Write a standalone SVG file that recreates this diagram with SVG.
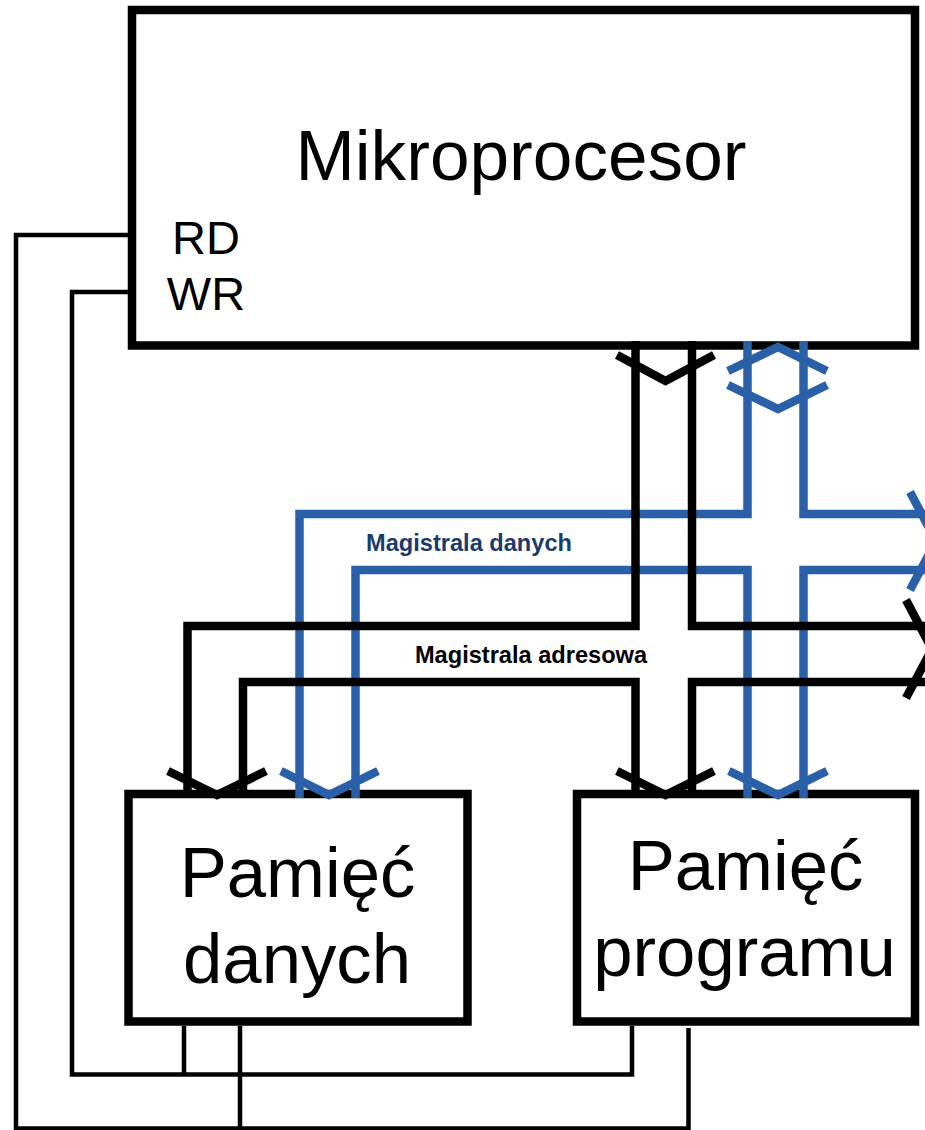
<svg xmlns="http://www.w3.org/2000/svg" width="925" height="1130" viewBox="0 0 925 1130">
<style>
.box{fill:#fff;stroke:#000;stroke-width:8.500}
.k,.b,.t{fill:none;stroke-linejoin:miter;stroke-miterlimit:10}
.k{stroke:#000;stroke-width:8.500}
.b{stroke:#2a60a8;stroke-width:8.500}
.t{stroke:#000;stroke-width:4.500}
text{font-family:"Liberation Sans",Arial,sans-serif;fill:#000;text-anchor:middle}
.big{font-size:70.700px}
.sig{font-size:47px}
.lab{font-size:23.600px;font-weight:bold}
</style>
<rect width="925" height="1130" fill="#fff"/>
<g id="mikroprocesor">
<rect class="box" x="132" y="10" width="783" height="335.500"/>
<text class="big" x="521" y="180" style="font-size:71.200px">Mikroprocesor</text>
<text class="sig" x="206" y="254">RD</text>
<text class="sig" x="206" y="309.500">WR</text>
</g>
<g id="pamiec-danych">
<rect class="box" x="128.500" y="794" width="339" height="227.500"/>
<text class="big" x="297.500" y="897">Pamięć</text>
<text class="big" x="297" y="983">danych</text>
</g>
<g id="pamiec-programu">
<rect class="box" x="577" y="794" width="338" height="227.500"/>
<text class="big" x="745.500" y="890">Pamięć</text>
<text class="big" x="744.500" y="976">programu</text>
</g>
<g id="connectors">
<path class="t" d="M128 235H16V1128.500H688.500V1028"/>
<path class="t" d="M128 292H72V1074.500H632V1026"/>
<path class="t" d="M184 1026V1074.500M240 1026V1128.500"/>
<path class="b" d="M747.500 341V514H299.500V798"/>
<path class="b" d="M355.500 798V570H747.500V798"/>
<path class="b" d="M803.500 341V514H925M925 570H803.500V798"/>
<path class="b" d="M728 371L778 347L827 371M728 385L778 409L827 385"/>
<path class="b" d="M910 492L936 541L910 590"/>
<path class="b" d="M281 771L329 795L378 771M729 771L778 795L827 771"/>
<path class="k" d="M635.500 341V626H187.500V798"/>
<path class="k" d="M692 341V626H925M925 682H692V798"/>
<path class="k" d="M243 798V682H635.500V798"/>
<path class="k" d="M617 355L665.500 381L714 355"/>
<path class="k" d="M906 600L932 649L906 698"/>
<path class="k" d="M168 771L217 795L266 771M617 771L665.500 795L714 771"/>
</g>
<text class="lab" x="469" y="550.500" style="fill:#1c3a6b">Magistrala danych</text>
<text class="lab" x="531" y="662.500">Magistrala adresowa</text>
</svg>
